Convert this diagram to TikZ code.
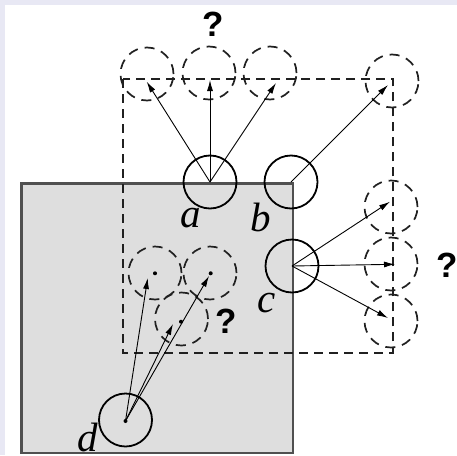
\documentclass[tikz,border=0pt]{standalone}
\usepackage{fontspec}
\setmainfont{Liberation Serif}
\newfontfamily\qfont{Liberation Sans}
\usetikzlibrary{arrows.meta}
\definecolor{bglav}{HTML}{E8E8F4}
\definecolor{sqfill}{HTML}{DEDEDE}
\definecolor{sqedge}{HTML}{505050}
\definecolor{dashcol}{HTML}{202020}
\begin{document}
\begin{tikzpicture}[x=1pt,y=-1pt,
 solidc/.style={circle,draw=black,line width=1.8pt,minimum size=53pt,inner sep=0pt},
 dashc/.style={circle,draw=dashcol,line width=1.7pt,dash pattern=on 10pt off 7pt,minimum size=53pt,inner sep=0pt},
 dashbox/.style={draw=dashcol,line width=1.8pt,dash pattern=on 9pt off 6pt},
 arr/.style={-{Latex[length=11pt,width=6pt]},line width=0.9pt},
 lbl/.style={font=\fontsize{41}{41}\selectfont\itshape, inner sep=0pt},
 qm/.style={font=\qfont\bfseries\fontsize{35}{35}\selectfont, inner sep=0pt},
 dotc/.style={circle,fill=black,inner sep=0pt,minimum size=4pt}]
\useasboundingbox (0,0) rectangle (457,455);
\fill[bglav] (0,0) rectangle (457,455);
\fill[white] (5,5) rectangle (457,455);
% grey square
\filldraw[fill=sqfill,draw=sqedge,line width=2.4pt] (21.3,183.3) rectangle (292.7,453);
% dashed box
\draw[dashbox] (122.7,79) rectangle (392.7,352.7);
% dashed candidate circles
\node[dashc] (ta1) at (147,74) {};
\node[dashc] (ta2) at (209,73) {};
\node[dashc] (ta3) at (270,73) {};
\node[dashc] (tb) at (392,81) {};
\node[dashc] (tc1) at (391,207) {};
\node[dashc] (tc2) at (391,264) {};
\node[dashc] (tc3) at (391,321) {};
\node[dashc] (td1) at (155,273) {};
\node[dashc] (td2) at (210,273) {};
\node[dashc] (td3) at (181.5,319) {};
% solid circles
\node[solidc] (a) at (210,182) {};
\node[solidc] (b) at (291,182) {};
\node[solidc] (c) at (292,266) {};
\node[solidc] (d) at (125.5,420) {};
% dots
\node[dotc] (dd) at (125.5,421) {};
\node[dotc] (p1) at (155,273.3) {};
\node[dotc] (p2) at (210.7,273.3) {};
\node[dotc] (p3) at (181,321.7) {};
% arrow end points
\coordinate (ea1) at (146.7,81.7);
\coordinate (ea2) at (210,80);
\coordinate (ea3) at (276,83);
\coordinate (eb) at (388,85);
\coordinate (ec1) at (390,201.7);
\coordinate (ec2) at (395,264.3);
\coordinate (ec3) at (388,318);
\coordinate (ed1) at (147.7,278);
\coordinate (ed2) at (209,276);
\coordinate (ed3) at (173,324);
% arrows
\draw[arr] (a.center) -- (ea1);
\draw[arr] (a.center) -- (ea2);
\draw[arr] (a.center) -- (ea3);
\draw[arr] (b.center) -- (eb);
\draw[arr] (c.center) -- (ec1);
\draw[arr] (c.center) -- (ec2);
\draw[arr] (c.center) -- (ec3);
\draw[arr] (dd.center) -- (ed1);
\draw[arr] (dd.center) -- (ed2);
\draw[arr] (dd.center) -- (ed3);
% labels
\node[lbl] (la) at (191,218) {a};
\node[lbl] (lb) at (261,217) {b};
\node[lbl] (lc) at (267,303) {c};
\node[lbl] (ld) at (88,437) {d};
\node[qm] (q1) at (213,24) {?};
\node[qm] (q2) at (447,265) {?};
\node[qm] (q3) at (226,321) {?};
\end{tikzpicture}
\end{document}
